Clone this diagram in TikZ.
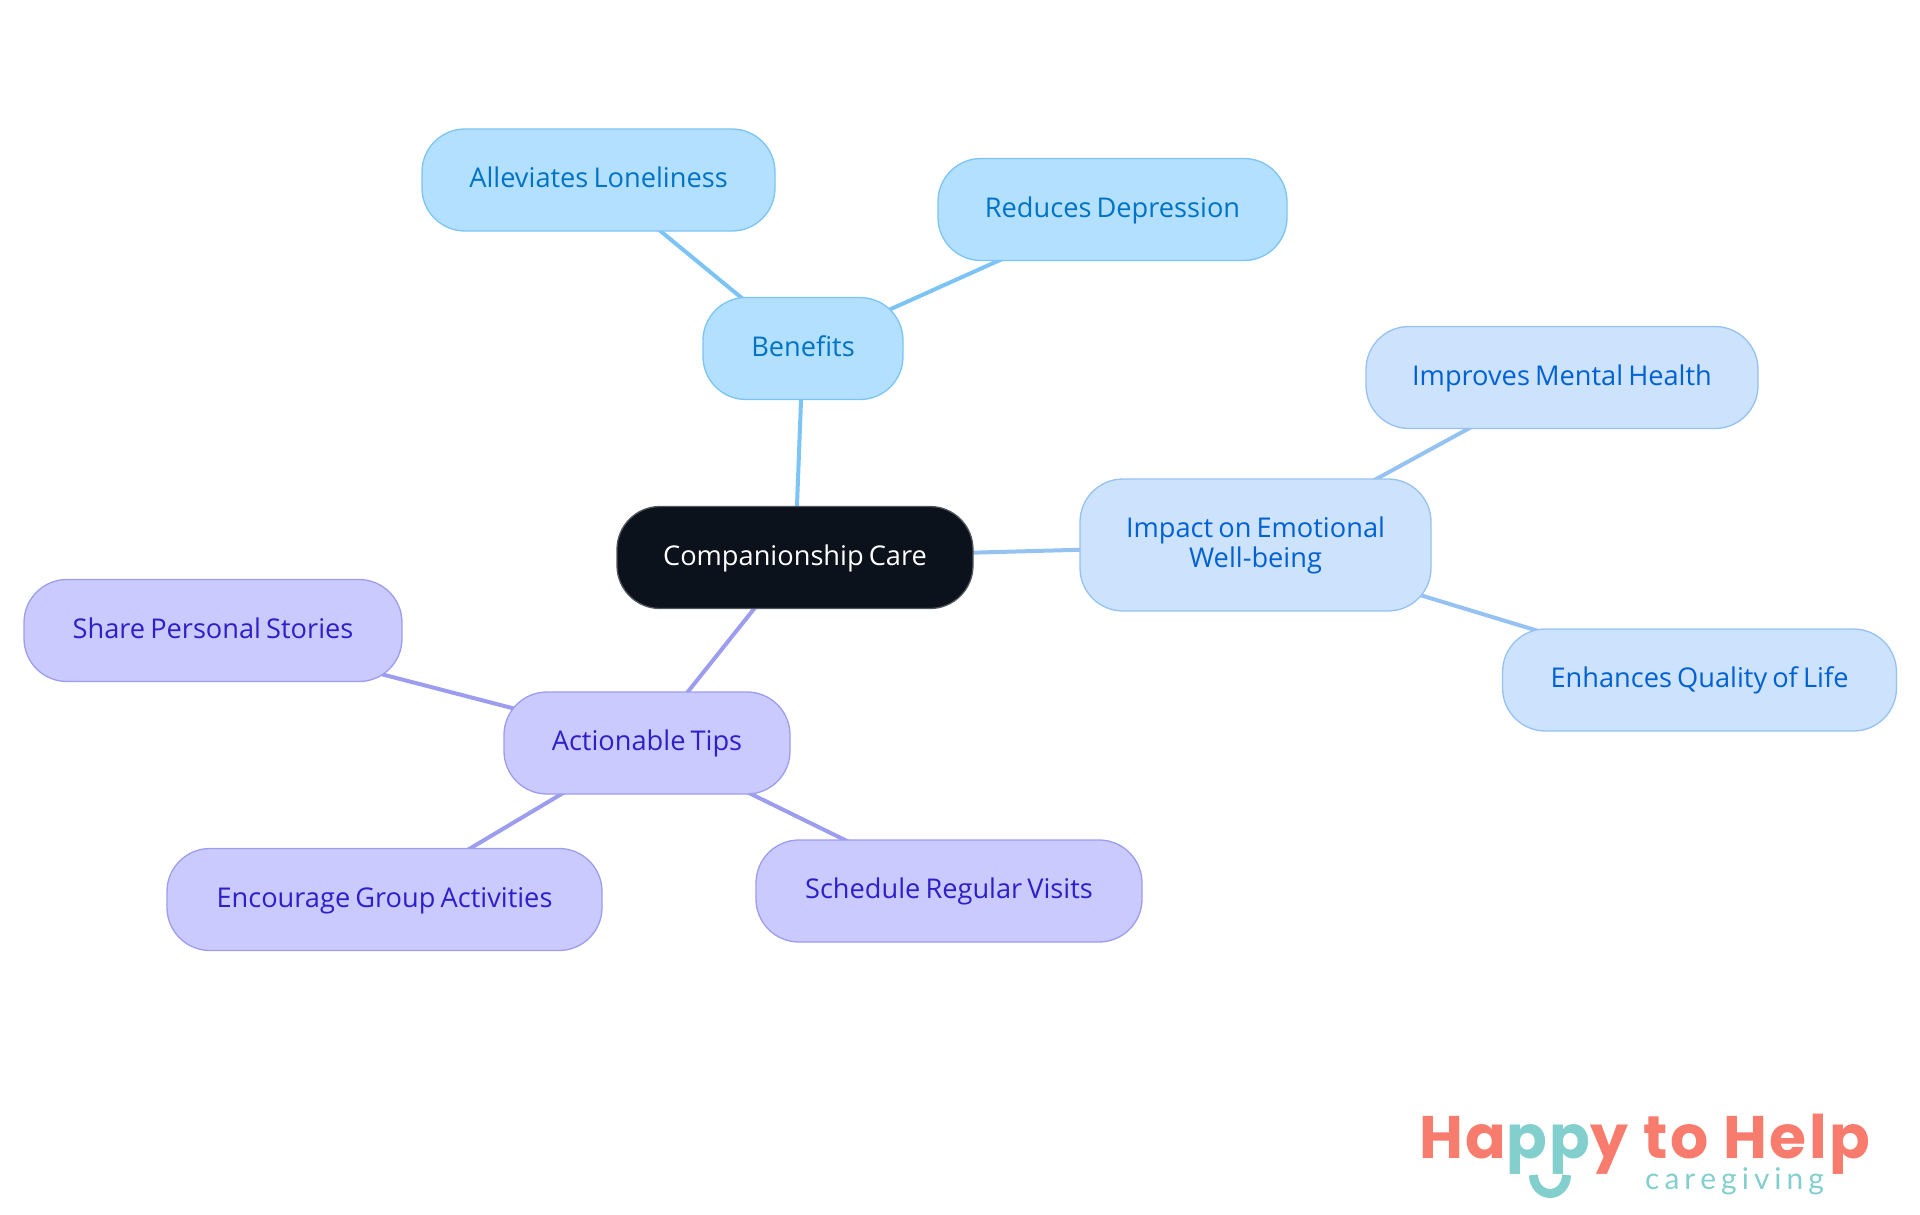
\documentclass[tikz,border=0pt]{standalone}
\usepackage{fontspec}
\setmainfont{Open Sans}[WordSpace=0.72]
\newfontfamily\logofont{Poppins}[LetterSpace=4.1]
\newfontfamily\subfont{Lato}
\usetikzlibrary{backgrounds}
\definecolor{rootfill}{HTML}{0B121B}
\definecolor{rootedge}{HTML}{50555B}
\definecolor{bfill}{HTML}{B3E0FF}
\definecolor{bedge}{HTML}{7CC4F5}
\definecolor{btext}{HTML}{0073C4}
\definecolor{ifill}{HTML}{CCE2FD}
\definecolor{iedge}{HTML}{96C2F2}
\definecolor{itext}{HTML}{0062D1}
\definecolor{afill}{HTML}{CACAFF}
\definecolor{aedge}{HTML}{9D9DF0}
\definecolor{atext}{HTML}{2E1FC9}
\definecolor{coral}{HTML}{F87C6D}
\definecolor{teal}{HTML}{82CFCE}
\tikzset{
  x=1pt,y=-1pt,
  pill/.style={rounded corners=43pt,line width=1.3pt,inner sep=0pt,font=\fontsize{27.2}{30}\selectfont,align=center,anchor=center},
  oneline/.style={text height=21pt,text depth=6pt},
  rootbox/.style={pill,oneline,draw=rootedge,fill=rootfill,text=white},
  bbox/.style={pill,oneline,draw=bedge,fill=bfill,text=btext},
  ibox/.style={pill,oneline,draw=iedge,fill=ifill,text=itext},
  itwo/.style={pill,draw=iedge,fill=ifill,text=itext},
  abox/.style={pill,oneline,draw=aedge,fill=afill,text=atext},
  link/.style={line width=4pt},
}
\begin{document}
\begin{tikzpicture}
\useasboundingbox (0,0) rectangle (1920,1215);
\node[rootbox,minimum width=356pt,minimum height=102pt] (root) at (795,557.5) {Companionship Care};
\node[bbox,minimum width=200pt,minimum height=102pt] (ben) at (803,348.5) {Benefits};
\node[bbox,minimum width=353pt,minimum height=102pt] (lon) at (598.5,180) {Alleviates Loneliness};
\node[bbox,minimum width=349pt,minimum height=102pt] (dep) at (1112.5,209.5) {Reduces Depression};
\node[itwo,minimum width=351pt,minimum height=132pt] (imp) at (1255.5,545) {Impact on Emotional\\Well-being};
\node[ibox,minimum width=392pt,minimum height=102pt] (men) at (1562,377.5) {Improves Mental Health};
\node[ibox,minimum width=394pt,minimum height=102pt] (qua) at (1699.5,680) {Enhances Quality of Life};
\node[abox,minimum width=286pt,minimum height=102pt] (tip) at (647,743) {Actionable Tips};
\node[abox,minimum width=378pt,minimum height=102pt] (sto) at (213,630.5) {Share Personal Stories};
\node[abox,minimum width=435pt,minimum height=102pt] (gro) at (384.5,899.5) {Encourage Group Activities};
\node[abox,minimum width=386pt,minimum height=102pt] (vis) at (949,891) {Schedule Regular Visits};
\begin{scope}[on background layer]
\draw[link,bedge] (root.center) -- (ben.center);
\draw[link,bedge] (ben.center) -- (lon.center);
\draw[link,bedge] (ben.center) -- (dep.center);
\draw[link,iedge] (root.center) -- (imp.center);
\draw[link,iedge] (imp.center) -- (men.center);
\draw[link,iedge] (imp.center) -- (qua.center);
\draw[link,aedge] (root.center) -- (tip.center);
\draw[link,aedge] (tip.center) -- (sto.center);
\draw[link,aedge] (tip.center) -- (gro.center);
\draw[link,aedge] (tip.center) -- (vis.center);
\end{scope}
\node[anchor=base west,inner sep=0pt,text=coral,font=\logofont\bfseries\fontsize{60}{60}\selectfont] (logo) at (1419,1158) {Ha\textcolor{teal}{pp}y to Help};
\node[anchor=base west,inner sep=0pt,text=teal,font=\subfont\fontsize{30}{30}\selectfont] (sub) at (1645,1189) {c\kern5pt a\kern5pt r\kern5pt e\kern5pt g\kern5pt i\kern5pt v\kern5pt i\kern5pt n\kern5pt g};
\draw[teal,line width=9pt] (1533.5,1175) arc[start angle=180,end angle=360,x radius=16.5pt,y radius=18.5pt];
\end{tikzpicture}
\end{document}
